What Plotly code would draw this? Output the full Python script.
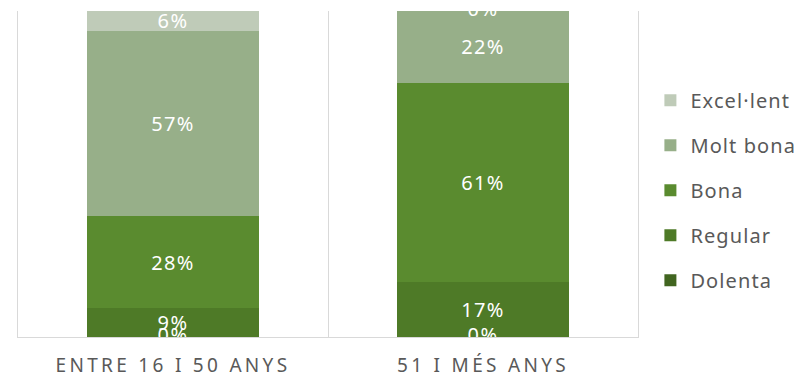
import plotly.graph_objects as go

categories = ["ENTRE 16 I 50 ANYS", "51 I MÉS ANYS"]
series_names = ["Dolenta", "Regular", "Bona", "Molt bona", "Excel·lent"]
dolenta = [0, 0]
regular = [9, 17]
bona = [28, 61]
molt_bona = [57, 22]
excellent = [6, 0]
series_values = [dolenta, regular, bona, molt_bona, excellent]
colors = ["#416520", "#4e7a27", "#5a8b2f", "#97af89", "#bfcbb8"]

FONT = "Noto Sans"
LABEL_SIZE = 20
LBL = '<span style="letter-spacing:1.4px">{}</span>'
fig = go.Figure()

n = len(series_names)
for k, (name, vals, col) in enumerate(zip(series_names, series_values, colors)):
    fig.add_trace(go.Bar(
        x=categories, y=vals,
        name='<span style="letter-spacing:1.1px">' + name + '</span>',
        legendgroup=name, legendrank=n - k,
        marker=dict(color=col, line=dict(width=0)),
        text=[LBL.format(f"{v}%") if v else "" for v in vals],
        textposition="inside", insidetextanchor="middle",
        constraintext="none", textangle=0,
        textfont=dict(family=FONT, size=LABEL_SIZE, color="white"),
        hoverinfo="skip",
    ))

# zero-value labels (Excel still shows them, centred on the empty segment)
cum = [0, 0]
zx, zy, zt = [], [], []
for vals in series_values:
    for i, v in enumerate(vals):
        if v == 0:
            zx.append(categories[i]); zy.append(cum[i]); zt.append(LBL.format("0%"))
        cum[i] += v

fig.add_trace(go.Scatter(x=zx, y=zy, text=zt, mode="text",
                         textposition="middle center", cliponaxis=True, showlegend=False,
                         textfont=dict(family=FONT, size=LABEL_SIZE, color="white"),
                         hoverinfo="skip"))

ticktext = [f'<span style="letter-spacing:3.3px">{c}</span>' for c in categories]

# page body has an 8px margin; figure sized so the plot lands where the reference has it
fig.update_layout(
    width=795, height=367,
    margin=dict(l=10, r=165, t=3, b=38, autoexpand=False),
    paper_bgcolor="white", plot_bgcolor="white",
    barmode="stack", bargap=0.442,
    font=dict(family=FONT, color="#595959"),
    xaxis=dict(type="category", tickson="boundaries", showgrid=True, gridcolor="#d9d9d9",
               gridwidth=1, ticks="", showline=True, linecolor="#d9d9d9", linewidth=1,
               tickvals=categories, ticktext=ticktext, ticklabelstandoff=11, automargin=False,
               tickfont=dict(family=FONT, size=19, color="#595959"), zeroline=False),
    yaxis=dict(range=[0, 100], showgrid=False, showticklabels=False, zeroline=False,
               automargin=False,
               showline=True, linecolor="#d9d9d9", linewidth=1, mirror=True, ticks=""),
    legend=dict(traceorder="grouped", tracegroupgap=16, x=1.02, xanchor="left",
                y=0.45, yanchor="middle", font=dict(family=FONT, size=20, color="#595959"),
                bgcolor="rgba(0,0,0,0)"),
    showlegend=True,
)

fig.write_html("out.html")
